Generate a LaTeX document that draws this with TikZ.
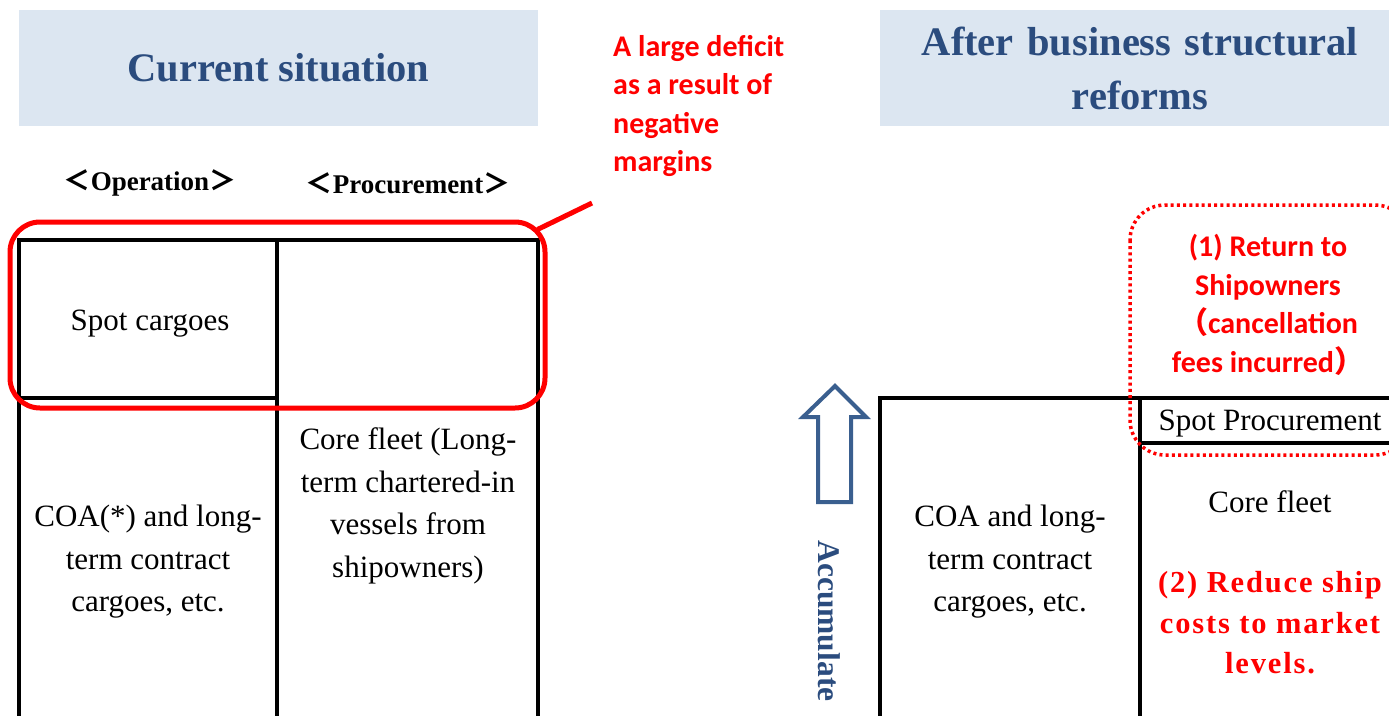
\documentclass[tikz,border=0pt]{standalone}
\usepackage{fontspec}
\setmainfont{Liberation Serif}
\newfontfamily\calfont{Carlito}
\newfontfamily\cjk{Noto Sans CJK JP}
\newfontfamily\spacedserif[LetterSpace=6]{Liberation Serif}
\usetikzlibrary{calc}
\definecolor{hdrfill}{RGB}{220,230,241}
\definecolor{hdrblue}{RGB}{43,76,126}
\definecolor{arrblue}{RGB}{58,95,143}
\definecolor{redc}{RGB}{255,0,0}
\begin{document}
\begin{tikzpicture}[x=1pt,y=-1pt,
  hdr/.style={fill=hdrfill, inner sep=0pt, text=hdrblue, font=\fontsize{40.5}{54}\selectfont\bfseries, align=center},
  colhdr/.style={inner sep=0pt, font=\fontsize{27}{30}\selectfont\bfseries},
  tbl/.style={line width=4.3pt, line cap=rect},
  body/.style={inner sep=0pt, align=center, font=\fontsize{31}{42.5}\selectfont},
  redbody/.style={inner sep=0pt, align=center, text=redc, font=\spacedserif\fontsize{30.5}{40.5}\selectfont\bfseries},
  calred/.style={inner sep=0pt, text=redc, font=\calfont\fontsize{30}{38.5}\selectfont\bfseries},
  hollowarrow/.style={draw=arrblue, line width=4pt, fill=white, line join=miter}
]
\useasboundingbox (0,0) rectangle (1389,715);

% headers
\node[hdr, minimum width=519pt, minimum height=116pt] (hdrL) at (278.5,68) {Current situation};
\node[hdr, minimum width=509pt, minimum height=116pt, text width=509pt] (hdrR) at (1134.5,68) {\hspace*{11pt}After business structural\\\hspace*{11pt}reforms};

% column headers
\node[colhdr] (op) at (150,183) {{\cjk ＜}Operation{\cjk ＞}};
\node[colhdr] (proc) at (408,183) {{\cjk ＜}Procurement{\cjk ＞}};

% left table
\draw[tbl] (19,715) -- (19,240) -- (538,240) -- (538,715);
\draw[tbl] (277,240) -- (277,715);
\draw[tbl] (19,398) -- (277,398);

\node[body] (spot) at (150,324) {Spot cargoes};
\node[body] (coaL) at (148,562) {COA(*) and long-\\term contract\\cargoes, etc.};
\node[body] (core) at (408,506) {Core fleet (Long-\\term chartered-in\\vessels from\\shipowners)};

% red callout
\node[draw=redc, line width=5pt, rounded corners=30pt, minimum width=535pt, minimum height=186pt, inner sep=0pt] (deficitbox) at (277.5,315) {};
\coordinate (callend) at (592,203);
\draw[redc, line width=5pt] (callend) -- ($(deficitbox.north east)+(-10,10)$);
\node[calred, anchor=north west, align=left] (deficit) at (613,35) {A large deficit\\as a result of\\negative\\margins};

% arrow
\draw[hollowarrow] (835,386) -- (866,417) -- (851,417) -- (851,502) -- (818,502) -- (818,417) -- (803,417) -- cycle;
\node[inner sep=0pt, text=hdrblue, rotate=-90, font=\fontsize{31.5}{34}\selectfont\bfseries] (acc) at (829,621) {Accumulate};

% right table
\draw[tbl] (880,715) -- (880,398) -- (1389,398);
\draw[tbl] (1140,398) -- (1140,715);
\draw[tbl] (1140,443) -- (1389,443);

\node[body] (spotp) at (1270,424) {Spot Procurement};
\node[body] (corer) at (1270,502) {Core fleet};
\node[body] (coaR) at (1010,562) {COA and long-\\term contract\\cargoes, etc.};
\node[redbody] (reduce) at (1270,623) {(2) Reduce ship\\costs to market\\levels.};

% dotted box
\draw[redc, line width=3.5pt, dash pattern=on 3pt off 3.2pt, rounded corners=35pt] (1130,205) rectangle (1410,455);
\node[calred, align=center] (ret) at (1268,305) {(1) Return to\\Shipowners\\{\cjk （}cancellation\\fees incurred{\cjk ）}};
\end{tikzpicture}
\end{document}
